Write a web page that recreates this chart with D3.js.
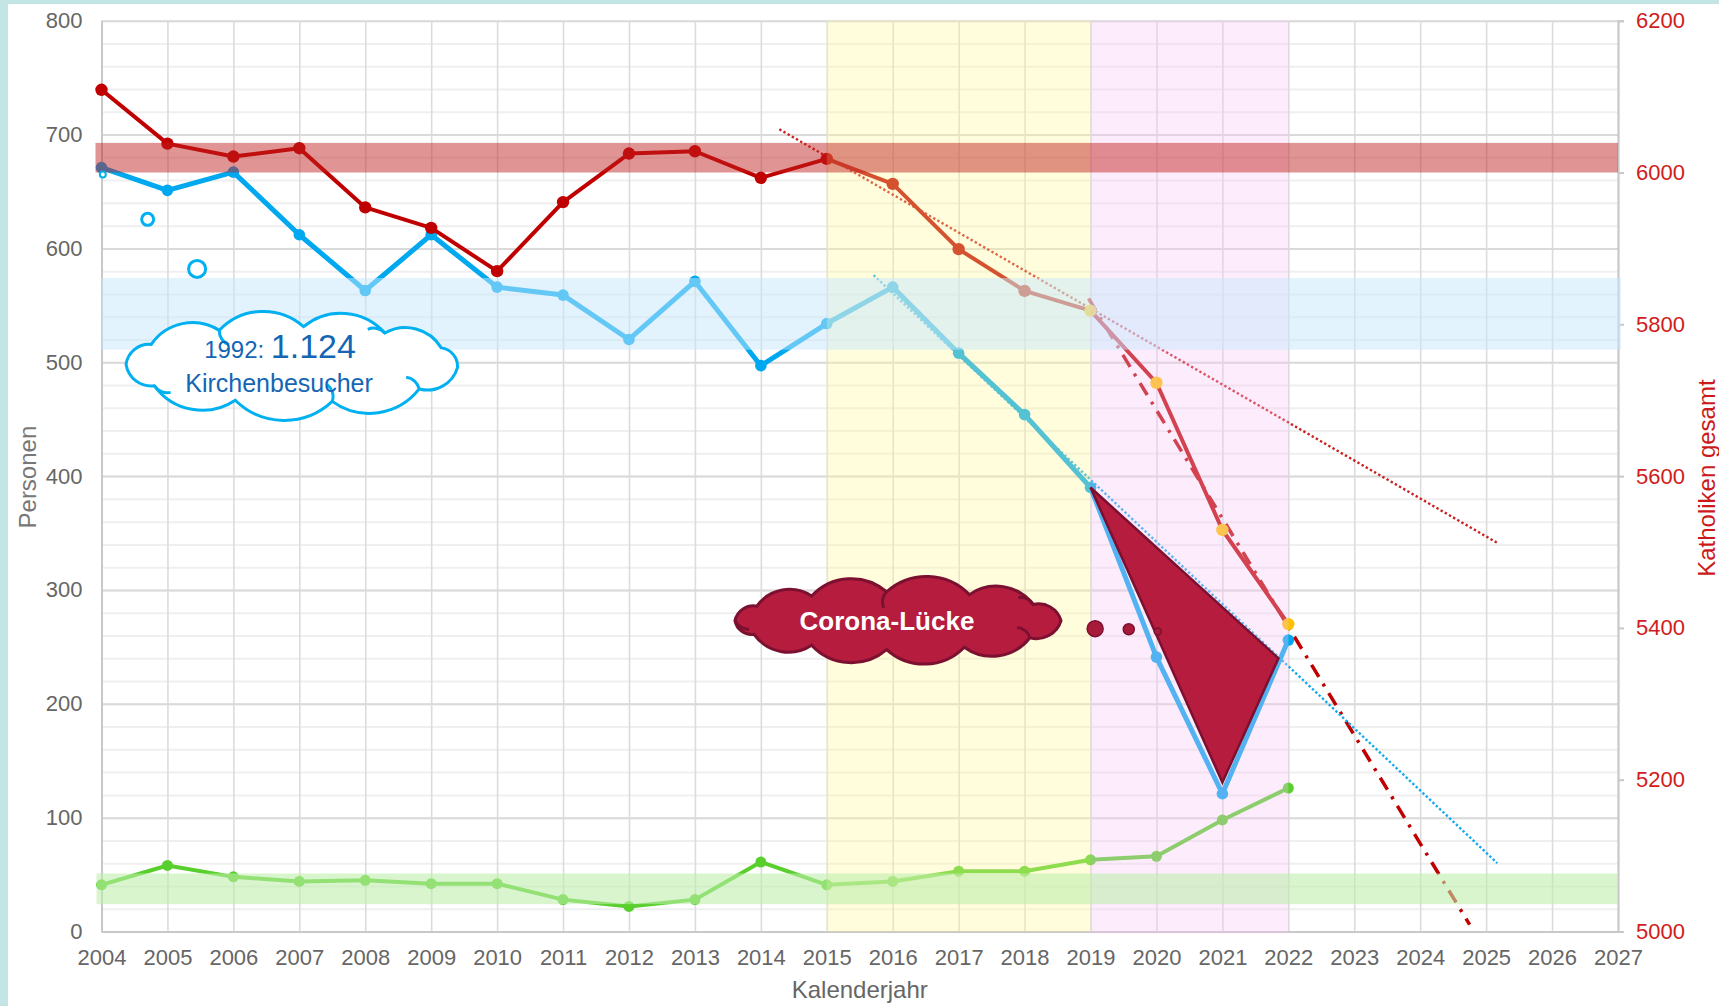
<!DOCTYPE html>
<html>
<head>
<meta charset="utf-8">
<script src="https://cdn.jsdelivr.net/npm/d3@7"></script>
<style>
body { margin: 0; background: #fff; }
svg { display: block; }
text { font-family: "Liberation Sans", Arial, sans-serif; }
</style>
</head>
<body>
<svg width="1719" height="1006"></svg>
<script>
// values
var years = [2004, 2005, 2006, 2007, 2008, 2009, 2010, 2011, 2012, 2013, 2014, 2015, 2016, 2017, 2018, 2019, 2020, 2021, 2022];
var katholiken = [6109, 6038, 6021, 6032, 5954, 5927, 5870, 5961, 6025, 6028, 5993, 6018, 5985, 5899, 5844, 5818, 5723, 5529, 5405]; // right axis
var besucher = [671, 651, 667, 612, 563, 612, 566, 559, 520, 571, 497, 534, 566, 508, 454, 390, 241, 121, 256];
var gruppe3 = [41, 58, 48, 44, 45, 42, 42, 28, 22, 28, 61, 41, 44, 53, 53, 63, 66, 98, 126];

var yearTicks = d3.range(2004, 2028);
var leftTicks = [0, 100, 200, 300, 400, 500, 600, 700, 800];
var rightTicks = [5000, 5200, 5400, 5600, 5800, 6000, 6200];

// trend / forecast lines (end points)
var katholikenTrend = [[2014.28, 6057], [2025.19, 5511]];
var katholikenForecast = [[2018.97, 5834], [2024.75, 5009]];
var besucherTrend = [[2015.71, 576.5], [2025.17, 60]];

// highlighted ranges
var periodYellow = [2015, 2019];
var periodPink = [2019, 2022];
var katholikenBand = [6000, 6039];
var besucherBand = [511, 574];
var gruppe3Band = [24, 51];

// annotations (data units)
var gapTriangle = [[2019, 390], [2021.85, 240], [2021, 131]];
var coronaCloud = [2016.08, 273];
var coronaDots = [[2019.07, 266, 8], [2019.58, 265.5, 5.5], [2020.02, 263.5, 3.5]];
var blueCloud = [2006.89, 498];
var blueBubbles = [[2004.02, 665, 3], [2004.70, 625.5, 6], [2005.45, 582, 8.5]];

var svg = d3.select('svg');
var W = 1719, H = 1006;
var plot = { l: 101.5, r: 1618, t: 20.7, b: 931.5 };

var x = d3.scaleLinear().domain([2004, 2027]).range([plot.l, plot.r]);
var yL = d3.scaleLinear().domain([0, 800]).range([plot.b, plot.t]);
var yR = d3.scaleLinear().domain([5000, 6200]).range([plot.b, plot.t]);

// page frame
svg.append('rect').attr('width', W).attr('height', H).attr('fill', '#c3e5e3');
svg.append('rect').attr('x', 8).attr('y', 4).attr('width', W - 8).attr('height', H - 4).attr('fill', '#fff');

// grid
var minorGrid = svg.append('g').attr('transform', `translate(${plot.l},0)`)
    .call(d3.axisLeft(yL).tickValues(d3.range(0, 801, 20)).tickSize(-(plot.r - plot.l)).tickFormat(''));
minorGrid.selectAll('line').attr('stroke', '#efefef').attr('stroke-width', 2);
minorGrid.select('.domain').remove();

var vGrid = svg.append('g').attr('transform', `translate(0,${plot.b})`)
    .call(d3.axisBottom(x).tickValues(yearTicks).tickSize(-(plot.b - plot.t)).tickFormat(''));
vGrid.selectAll('line').attr('stroke', '#dcdcdc').attr('stroke-width', 1.6);
vGrid.select('.domain').remove();

var majorGrid = svg.append('g').attr('transform', `translate(${plot.l},0)`)
    .call(d3.axisLeft(yL).tickValues(leftTicks).tickSize(-(plot.r - plot.l)).tickFormat(''));
majorGrid.selectAll('line').attr('stroke', '#dadada').attr('stroke-width', 2);
majorGrid.select('.domain').remove();

// axes
var leftAxis = svg.append('g').attr('transform', `translate(${plot.l},0)`)
    .call(d3.axisLeft(yL).tickValues(leftTicks).tickSize(0).tickPadding(19));
leftAxis.select('.domain').attr('stroke', '#c8c8c8').attr('stroke-width', 2);
leftAxis.selectAll('text').attr('font-size', 22).attr('fill', '#666')
    .attr('font-family', '"Liberation Sans", Arial, sans-serif');

var bottomAxis = svg.append('g').attr('transform', `translate(0,${plot.b})`)
    .call(d3.axisBottom(x).tickValues(yearTicks).tickFormat(d3.format('d')).tickSize(0).tickPadding(18));
bottomAxis.select('.domain').attr('stroke', '#c8c8c8').attr('stroke-width', 2);
bottomAxis.selectAll('text').attr('font-size', 22).attr('fill', '#666')
    .attr('font-family', '"Liberation Sans", Arial, sans-serif');

var rightAxis = svg.append('g').attr('transform', `translate(${plot.r},0)`)
    .call(d3.axisRight(yR).tickValues(rightTicks).tickFormat(d3.format('d')).tickSize(6).tickPadding(12));
rightAxis.select('.domain').attr('stroke', '#c8c8c8').attr('stroke-width', 2);
rightAxis.selectAll('line').attr('stroke', '#c8c8c8').attr('stroke-width', 2);
rightAxis.selectAll('text').attr('font-size', 22).attr('fill', '#d01c1c')
    .attr('font-family', '"Liberation Sans", Arial, sans-serif');

// axis titles
svg.append('text').attr('x', x(2015.5)).attr('y', 998).attr('text-anchor', 'middle')
    .attr('font-size', 24).attr('fill', '#666').text('Kalenderjahr');
svg.append('text').attr('transform', `translate(36,${(plot.t + plot.b) / 2 + 1}) rotate(-90)`)
    .attr('text-anchor', 'middle').attr('font-size', 24).attr('fill', '#777').text('Personen');
svg.append('text').attr('transform', `translate(1715,${(plot.t + plot.b) / 2 + 2}) rotate(-90)`)
    .attr('text-anchor', 'middle').attr('font-size', 24).attr('fill', '#cc1a1a').text('Katholiken gesamt');

// trend lines (under the overlays)
var seg = d3.line().x(d => x(d[0]));
svg.append('path').datum(katholikenForecast)
    .attr('d', seg.y(d => yR(d[1]))).attr('fill', 'none')
    .attr('stroke', '#c00000').attr('stroke-width', 3.5).attr('stroke-dasharray', '14 8 3 8');
svg.append('path').datum(katholikenTrend)
    .attr('d', seg.y(d => yR(d[1]))).attr('fill', 'none')
    .attr('stroke', '#cc2020').attr('stroke-width', 2.4).attr('stroke-dasharray', '2.4 2.4');
svg.append('path').datum(besucherTrend)
    .attr('d', seg.y(d => yL(d[1]))).attr('fill', 'none')
    .attr('stroke', '#14aaf0').attr('stroke-width', 2.4).attr('stroke-dasharray', '2.4 2.2');

// series
function drawSeries(values, yScale, color, width, r, markerColor) {
    var pts = years.map((yr, i) => [yr, values[i]]);
    svg.append('path').datum(pts)
        .attr('d', d3.line().x(d => x(d[0])).y(d => yScale(d[1])))
        .attr('fill', 'none').attr('stroke', color).attr('stroke-width', width)
        .attr('stroke-linejoin', 'round');
    svg.append('g').selectAll('circle').data(pts).enter().append('circle')
        .attr('cx', d => x(d[0])).attr('cy', d => yScale(d[1])).attr('r', r)
        .attr('fill', (d, i) => markerColor(i));
}
drawSeries(gruppe3, yL, '#58cf2c', 4, 5.5, () => '#58cf2c');
drawSeries(besucher, yL, '#00a8f0', 5, 5.8, () => '#00a8f0');
drawSeries(katholiken, yR, '#c00000', 4, 6.2, i => years[i] >= 2019 ? '#ffc000' : '#c00000');

// highlighted periods and bands (semi transparent, on top of the lines)
svg.append('rect').attr('x', x(periodYellow[0])).attr('y', plot.t)
    .attr('width', x(periodYellow[1]) - x(periodYellow[0])).attr('height', plot.b - plot.t)
    .attr('fill', 'rgb(255,250,150)').attr('fill-opacity', 0.33);
svg.append('rect').attr('x', x(periodPink[0])).attr('y', plot.t)
    .attr('width', x(periodPink[1]) - x(periodPink[0])).attr('height', plot.b - plot.t + 2)
    .attr('fill', 'rgb(250,200,245)').attr('fill-opacity', 0.33);
svg.append('rect').attr('x', plot.l).attr('y', yL(besucherBand[1]))
    .attr('width', plot.r - plot.l + 3).attr('height', yL(besucherBand[0]) - yL(besucherBand[1]))
    .attr('fill', 'rgb(200,232,252)').attr('fill-opacity', 0.5);
svg.append('rect').attr('x', plot.l - 5).attr('y', yL(gruppe3Band[1]))
    .attr('width', plot.r - plot.l + 5).attr('height', yL(gruppe3Band[0]) - yL(gruppe3Band[1]))
    .attr('fill', 'rgb(190,238,170)').attr('fill-opacity', 0.58);
svg.append('rect').attr('x', plot.l - 6).attr('y', yR(katholikenBand[1]))
    .attr('width', plot.r - plot.l + 6).attr('height', yR(katholikenBand[0]) - yR(katholikenBand[1]))
    .attr('fill', 'rgb(192,32,32)').attr('fill-opacity', 0.48);

// corona gap triangle
svg.append('path').datum(gapTriangle)
    .attr('d', d3.line().x(d => x(d[0])).y(d => yL(d[1])).curve(d3.curveLinearClosed))
    .attr('fill', '#b61c3e').attr('stroke', '#7b1030').attr('stroke-width', 2.5)
    .attr('stroke-linejoin', 'miter');

// cloud shapes: scalloped outline around an ellipse plus a few inner creases
function cloudPoints(cx, cy, rx, ry, angles) {
    return angles.map(function (a) {
        var t = a * Math.PI / 180;
        return [cx + rx * Math.cos(t), cy + ry * Math.sin(t)];
    });
}
function cloudPath(pts, k) {
    var d = 'M' + pts[0][0] + ',' + pts[0][1];
    for (var i = 0; i < pts.length; i++) {
        var p = pts[i], q = pts[(i + 1) % pts.length];
        var r = Math.hypot(q[0] - p[0], q[1] - p[1]) * k;
        d += 'A' + r + ',' + r + ' 0 0 1 ' + q[0] + ',' + q[1];
    }
    return d + 'Z';
}
function creasePath(pts, cx, cy, which, len) {
    var d = '';
    which.forEach(function (i) {
        var p = pts[i];
        var dx = cx - p[0], dy = cy - p[1], n = Math.hypot(dx, dy);
        var ex = p[0] + dx / n * len - dy / n * len * 0.6;
        var ey = p[1] + dy / n * len + dx / n * len * 0.6;
        d += 'M' + p[0] + ',' + p[1] + 'A' + len + ',' + len + ' 0 0 0 ' + ex + ',' + ey;
    });
    return d;
}

var ccx = x(coronaCloud[0]), ccy = yL(coronaCloud[1]);
var cPts = cloudPoints(ccx, ccy, 163, 29, [0, 36, 66, 94, 122, 152, 180, 210, 238, 266, 296, 326]);
svg.append('path').attr('d', cloudPath(cPts, 0.72))
    .attr('fill', '#b61c3e').attr('stroke', '#7b1030').attr('stroke-width', 3);
svg.append('path').attr('d', creasePath(cPts, ccx, ccy, [1, 6, 9, 11], 14))
    .attr('fill', 'none').attr('stroke', '#7b1030').attr('stroke-width', 3);
svg.append('text').attr('x', ccx - 11).attr('y', ccy + 9).attr('text-anchor', 'middle')
    .attr('font-family', 'Lato, "Open Sans", sans-serif').attr('font-weight', 'bold')
    .attr('font-size', 26).attr('fill', '#fff').text('Corona-Lücke');
svg.append('g').selectAll('circle').data(coronaDots).enter().append('circle')
    .attr('cx', d => x(d[0])).attr('cy', d => yL(d[1])).attr('r', d => d[2])
    .attr('fill', '#a81a3a').attr('stroke', '#7b1030').attr('stroke-width', 1.5);

var bcx = x(blueCloud[0]), bcy = yL(blueCloud[1]);
var bPts = cloudPoints(bcx, bcy, 166, 38, [5, 40, 76, 110, 146, 180, 212, 244, 274, 304, 334]);
svg.append('path').attr('d', cloudPath(bPts, 0.72))
    .attr('fill', '#fff').attr('stroke', '#00b0f0').attr('stroke-width', 3);
svg.append('path').attr('d', creasePath(bPts, bcx, bcy, [1, 2, 4, 7, 9], 15))
    .attr('fill', 'none').attr('stroke', '#00b0f0').attr('stroke-width', 3);
var t1 = svg.append('text').attr('x', bcx - 12).attr('y', bcy - 7).attr('text-anchor', 'middle')
    .attr('font-family', 'Lato, "Open Sans", sans-serif').attr('fill', '#1465b4');
t1.append('tspan').attr('font-size', 24).text('1992: ');
t1.append('tspan').attr('font-size', 34).text('1.124');
svg.append('text').attr('x', bcx - 13).attr('y', bcy + 27).attr('text-anchor', 'middle')
    .attr('font-family', 'Lato, "Open Sans", sans-serif').attr('font-size', 25)
    .attr('fill', '#1465b4').text('Kirchenbesucher');
svg.append('g').selectAll('circle').data(blueBubbles).enter().append('circle')
    .attr('cx', d => x(d[0])).attr('cy', d => yL(d[1])).attr('r', d => d[2])
    .attr('fill', '#fff').attr('stroke', '#00b0f0').attr('stroke-width', d => d[2] > 4 ? 3 : 2);
</script>
</body>
</html>
